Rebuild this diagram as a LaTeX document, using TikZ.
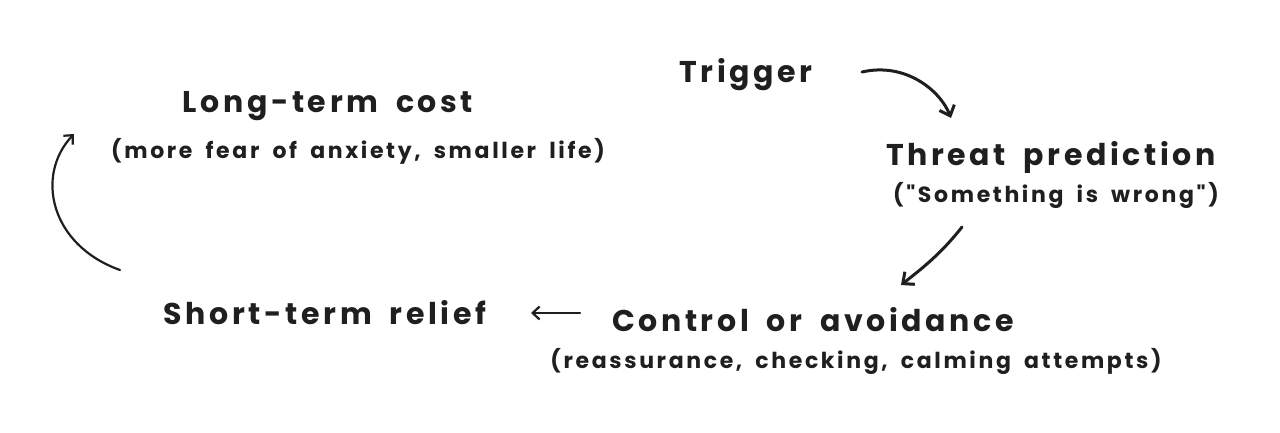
\documentclass[tikz,border=0pt]{standalone}
\usepackage{fontspec}
\setmainfont{Poppins}
\newfontfamily\spfont[LetterSpace=12,WordSpace=1.8]{Poppins}
\usetikzlibrary{arrows.meta}
\begin{document}
\begin{tikzpicture}[x=1pt,y=-1pt,
  head/.style={font=\spfont\fontsize{30}{34}\selectfont\bfseries, inner sep=0pt, text=black!88},
  sub/.style={font=\spfont\fontsize{22}{26}\selectfont\bfseries, inner sep=0pt, text=black!88},
  arr/.style={line width=3pt, line cap=round, draw=black!88, -{Straight Barb[length=9pt,width=16pt,line width=3pt]}},
  arrthin/.style={line width=2.2pt, line cap=round, draw=black!88, -{Straight Barb[length=7pt,width=13pt,line width=2.2pt]}}]
\useasboundingbox (0,0) rectangle (1280,432);
\fill[white] (0,0) rectangle (1280,432);
\node[head] (trig) at (746,75) {Trigger};
\node[head] (ltc) at (328,106) {Long-term cost};
\node[sub] (ltcs) at (358,151) {(more fear of anxiety, smaller life)};
\node[head] (thr) at (1051,157) {Threat prediction};
\node[sub] (thrs) at (1056,195) {("Something is wrong")};
\node[head] (str) at (325,313) {Short-term relief};
\node[head] (ctl) at (813,320) {Control or avoidance};
\node[sub] (ctls) at (856,361) {(reassurance, checking, calming attempts)};
\coordinate (a1s) at (862,72);
\coordinate (a1e) at (951,118);
\draw[arr] (a1s) .. controls (905,62) and (940,90) .. (a1e);
\coordinate (a2s) at (962,227);
\coordinate (a2e) at (901,285);
\draw[arr] (a2s) .. controls (940,255) and (920,270) .. (a2e);
\coordinate (a3s) at (580,313);
\coordinate (a3e) at (531,313);
\draw[arrthin] (a3s) -- (a3e);
\coordinate (a4s) at (120,270);
\coordinate (a4e) at (74,134);
\draw[arrthin] (a4s) .. controls (50,245) and (35,175) .. (a4e);
\end{tikzpicture}
\end{document}
